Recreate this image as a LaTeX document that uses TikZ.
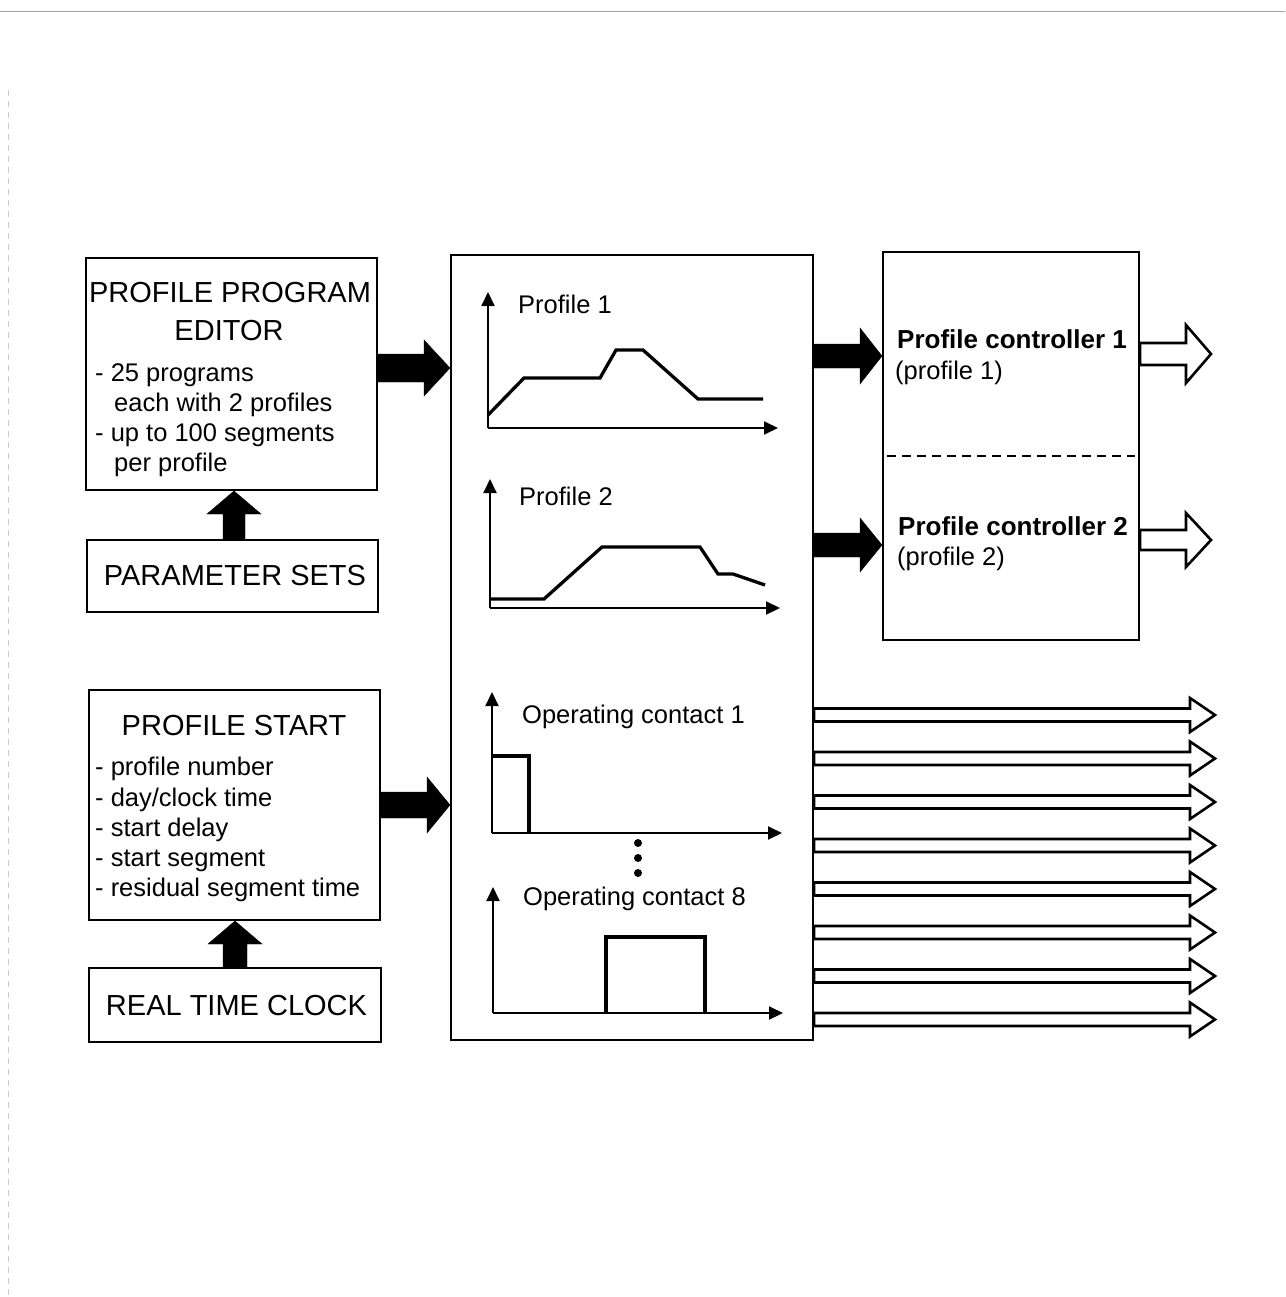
\documentclass[tikz,border=0pt]{standalone}
\usepackage{fontspec}
\setmainfont{Liberation Sans}
\usetikzlibrary{calc,arrows.meta}
% block arrow pointing right: #1 style, #2 start point, #3 tip anchor, #4 head length, #5 shaft half width, #6 head half width
\newcommand\fatarrow[6]{%
  \path #2 coordinate (fa-s);
  \path (#3 |- fa-s) coordinate (fa-t);
  \draw[#1] let \p1=(fa-s), \p2=(fa-t) in
    (\x1,{\y1+#5}) -- ({\x2-#4},{\y1+#5}) -- ({\x2-#4},{\y1+#6}) -- (\x2,\y1)
    -- ({\x2-#4},{\y1-#6}) -- ({\x2-#4},{\y1-#5}) -- (\x1,{\y1-#5}) -- cycle;}
% block arrow pointing up
\newcommand\fatup[6]{%
  \path #2 coordinate (fu-s);
  \path (fu-s |- #3) coordinate (fu-t);
  \draw[#1] let \p1=(fu-s), \p2=(fu-t) in
    ({\x1-#5},\y1) -- ({\x1-#5},{\y2-#4}) -- ({\x1-#6},{\y2-#4}) -- (\x1,\y2)
    -- ({\x1+#6},{\y2-#4}) -- ({\x1+#5},{\y2-#4}) -- ({\x1+#5},\y1) -- cycle;}
\begin{document}
\begin{tikzpicture}[x=1pt,y=-1pt,
  box/.style={draw, line width=2pt, inner sep=0pt},
  big/.style={font=\fontsize{29}{34}\selectfont, inner sep=0pt},
  small/.style={font=\fontsize{25.5}{30}\selectfont, inner sep=0pt},
  bold/.style={font=\fontsize{26}{30}\selectfont\bfseries, inner sep=0pt},
  solidarrow/.style={fill=black},
  hollow/.style={draw, line width=2.6pt, fill=white, line join=miter},
  axis/.style={line width=2pt, -{Triangle[length=14pt,width=13pt]}},
  curve/.style={line width=3.3pt, line join=miter},
  pulse/.style={line width=3.3pt, line join=miter}]
\useasboundingbox (0,0) rectangle (1285,1297);
\fill[white] (0,0) rectangle (1285,1297);
% scan edges
\draw[gray!70, line width=1pt] (0,12) -- (1285,12);
\draw[gray!40, line width=0.8pt, dash pattern=on 6pt off 5pt] (8,90) -- (8,1297);

% boxes
\node[box, minimum width=291pt, minimum height=232pt] (ppe) at (231.5,374) {};
\node[box, minimum width=291pt, minimum height=72pt] (params) at (232.5,576) {};
\node[box, minimum width=291pt, minimum height=230pt] (pstart) at (234.5,805) {};
\node[box, minimum width=292pt, minimum height=74pt] (rtc) at (235,1005) {};
\node[box, minimum width=362pt, minimum height=785pt] (ctr) at (632,647.5) {};
\node[box, minimum width=256pt, minimum height=388pt] (ctrl) at (1011,446) {};

% texts, left column
\node[big, anchor=base] (t1) at (230,302) {PROFILE PROGRAM};
\node[big, anchor=base] (t2) at (229,340) {EDITOR};
\node[small, anchor=base west] (t3) at (95,381) {- 25 programs};
\node[small, anchor=base west] (t4) at (114,411) {each with 2 profiles};
\node[small, anchor=base west] (t5) at (95,441) {- up to 100 segments};
\node[small, anchor=base west] (t6) at (114,471) {per profile};
\node[big, anchor=base] (t7) at (235,585) {PARAMETER SETS};
\node[big, anchor=base] (t8) at (234,735) {PROFILE START};
\node[small, anchor=base west] (t9) at (95,775) {- profile number};
\node[small, anchor=base west] (t10) at (95,806) {- day/clock time};
\node[small, anchor=base west] (t11) at (95,836) {- start delay};
\node[small, anchor=base west] (t12) at (95,866) {- start segment};
\node[small, anchor=base west] (t13) at (95,896) {- residual segment time};
\node[big, anchor=base] (t14) at (236.5,1015) {REAL TIME CLOCK};

% texts, centre
\node[small, anchor=base west] (g1) at (518,313) {Profile 1};
\node[small, anchor=base west] (g2) at (519,505) {Profile 2};
\node[small, anchor=base west] (g3) at (522,723) {Operating contact 1};
\node[small, anchor=base west] (g4) at (523,905) {Operating contact 8};

% texts, controller
\node[bold, anchor=base west] (c1) at (897,348) {Profile controller 1};
\node[small, anchor=base west] (c2) at (895,379) {(profile 1)};
\node[bold, anchor=base west] (c3) at (898,535) {Profile controller 2};
\node[small, anchor=base west] (c4) at (897,565) {(profile 2)};
\draw[line width=1.8pt, dash pattern=on 9pt off 6pt] (887,456) -- (1135,456);

% graphs
\draw[axis] (488,428) -- (488,292);
\draw[axis] (488,428) -- (778,428);
\draw[curve] (488,415) -- (524,378) -- (600,378) -- (616,350) -- (643,350) -- (698,399) -- (763,399);
\draw[axis] (490,608) -- (490,479);
\draw[axis] (490,608) -- (780,608);
\draw[curve] (490,599) -- (544,599) -- (602,547) -- (700,547) -- (718,574) -- (733,574) -- (765,585);
\draw[axis] (492,833) -- (492,692);
\draw[axis] (492,833) -- (782,833);
\draw[pulse] (492,756) -- (529,756) -- (529,833);
\foreach \yy in {843,858,873} \fill (638,\yy) circle (4pt);
\draw[axis] (493,1013) -- (493,887);
\draw[axis] (493,1013) -- (783,1013);
\draw[pulse] (606,1013) -- (606,937) -- (705,937) -- (705,1013);

% helper heights
\coordinate (k0) at (0,368);
\coordinate (k1) at (0,356);
\coordinate (k2) at (0,545);
\coordinate (k3) at (0,805);

% solid arrows
\fatarrow{solidarrow}{(ppe.east |- k0)}{ctr.west}{26pt}{14pt}{28pt}
\fatarrow{solidarrow}{(pstart.east |- k3)}{ctr.west}{23pt}{13pt}{28pt}
\fatarrow{solidarrow}{(ctr.east |- k1)}{ctrl.west}{22pt}{12pt}{28pt}
\fatarrow{solidarrow}{(ctr.east |- k2)}{ctrl.west}{22pt}{12pt}{27pt}
\fatup{solidarrow}{($(params.north)+(1.5,0)$)}{ppe.south}{23pt}{11pt}{27pt}
\fatup{solidarrow}{($(rtc.north)+(0,0)$)}{pstart.south}{23pt}{12pt}{27pt}

% hollow output arrows
\coordinate (o1) at (1211,354);
\coordinate (o2) at (1211,540);
\fatarrow{hollow}{(ctrl.east |- o1)}{o1}{25pt}{11pt}{29pt}
\fatarrow{hollow}{(ctrl.east |- o2)}{o2}{25pt}{10pt}{27pt}
\foreach \yy [count=\i] in {715,758.5,802,845.5,889,932.5,976,1019.5}{
  \coordinate (oc\i) at (1215,\yy);
  \fatarrow{hollow}{(ctr.east |- oc\i)}{oc\i}{25pt}{6.5pt}{17pt}
}
\end{tikzpicture}
\end{document}
